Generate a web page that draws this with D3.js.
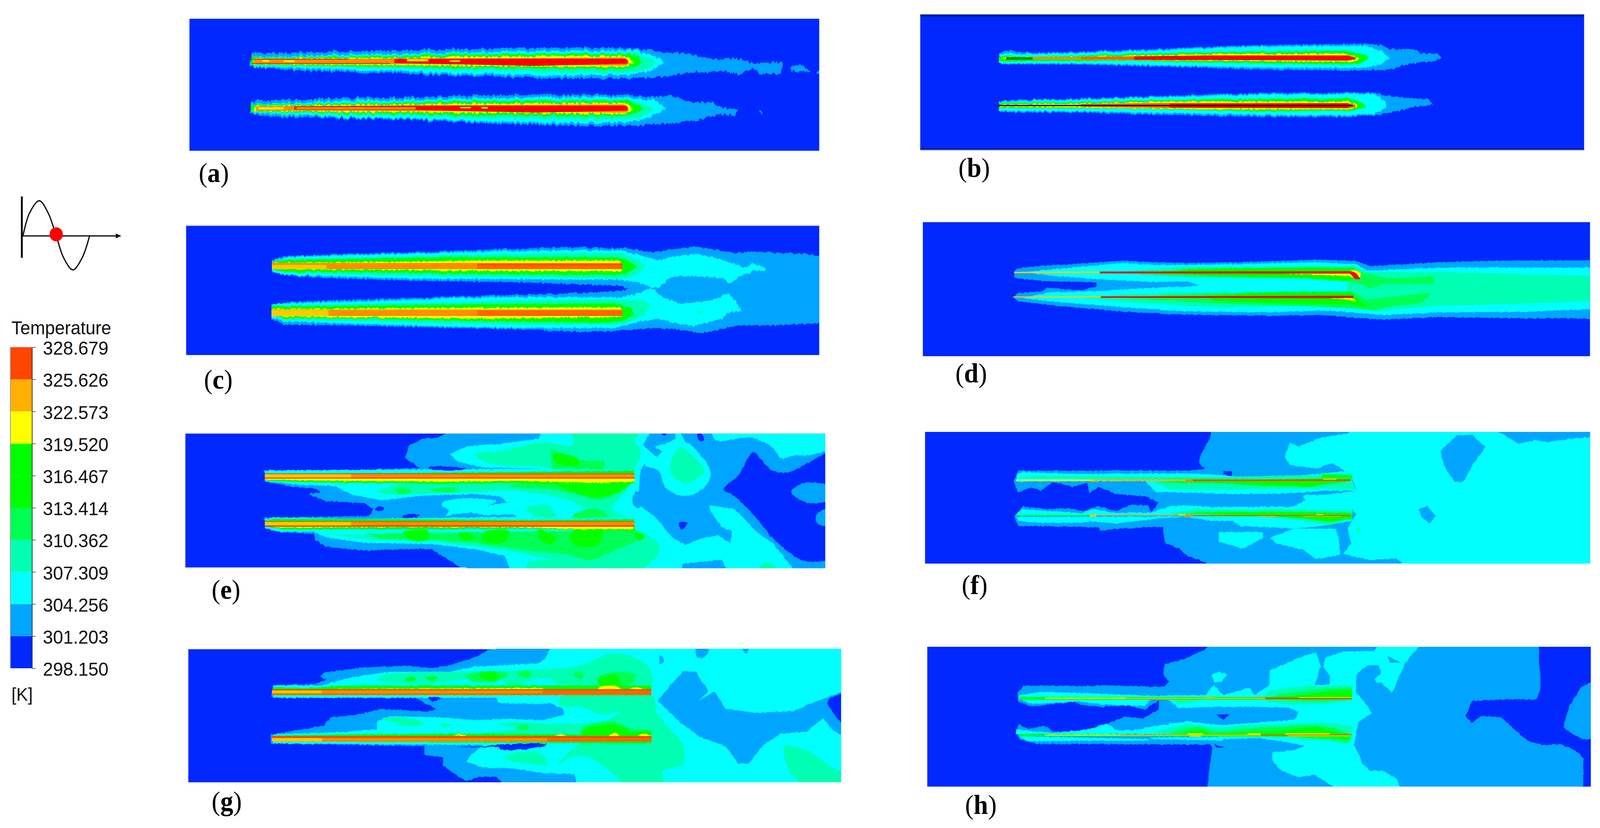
<!DOCTYPE html>
<html><head><meta charset="utf-8">
<style>html,body{margin:0;padding:0;background:#fff;overflow:hidden}svg{display:block;width:100vw;height:100vh}</style>
<script src="https://cdn.jsdelivr.net/npm/d3@7"></script>
</head><body><svg id="c" viewBox="0 0 4324 2120" preserveAspectRatio="none"></svg>
<script>
// ---------- legend data ----------
const tickLabels = ["298.150","301.203","304.256","307.309","310.362","313.414","316.467","319.520","322.573","325.626","328.679"];
const bandColors = ["#0028ff","#00a5ff","#00ffff","#00ffb2","#00ff52","#00ff00","#00ff00","#ffff00","#ffb000","#ff4500"];
const extraColors = ["#ff0000","#ff8c00","#ffc800","#1a8a00","#c89a20","#3a0000","#ff6400","#001f9c","#a8a8a8","#e8e4d8"];
const panelLetters = ["a","b","c","d","e","f","g","h"];
const cycleCurve = [[62,604],[80,545],[106,514],[130,545],[152,604],[172,660],[197,691],[222,660],[242,604]];
const cycleDot = [152,600];

// ---------- contour data: [level, flat x,y list] ----------
const contoursA = [
 [1,[172,365,180,350,400,335,600,322,750,313,900,308,1020,308,1115,325,1145,350,1185,345,1225,372,1245,390,1300,395,1325,392,1355,430,1372,425,1380,420,1425,420,1420,510,1370,505,1355,465,1325,510,1300,490,1240,490,1165,515,1115,540,1000,543,880,540,700,522,590,515,470,500,280,482,180,460,172,450]],
 [1,[1445,445,1470,440,1490,490,1450,490]],
 [1,[1512,480,1505,505,1515,505]],
 [2,[172,380,400,360,640,345,800,335,1080,328,1130,385,1145,425,1110,490,1060,515,880,520,600,498,340,470,180,450]],
 [3,[172,385,640,352,1070,345,1120,400,1125,430,1090,490,1040,500,640,475,172,445]],
 [5,[172,385,400,375,640,360,1060,355,1085,380,1095,420,1075,455,1040,470,640,460,172,435]],
 [7,[180,395,640,378,1050,370,1068,395,1070,430,1050,455,640,445,180,430]],
 [1,[172,725,180,712,400,695,600,682,720,672,1000,668,1160,680,1225,730,1250,722,1285,770,1320,780,1310,825,1285,815,1215,870,1130,890,1080,905,930,905,820,895,680,880,440,850,200,835,172,810]],
 [1,[1370,780,1378,800,1373,815]],
 [2,[172,740,400,715,640,700,1000,685,1120,700,1150,770,1110,850,1060,880,880,885,600,860,340,830,180,810]],
 [3,[172,745,640,712,1060,705,1115,760,1120,790,1090,850,1040,860,640,840,172,805]],
 [5,[172,745,400,735,640,720,1060,715,1085,740,1095,780,1075,815,1040,830,640,825,172,795]],
 [7,[180,755,640,738,1050,732,1068,755,1070,790,1050,815,640,805,180,790]]
];
const overlaysA = [
 [11,[180,397,500,390,1050,382,1060,400,1062,430,1055,445,640,435,180,430]],
 [10,[510,392,1055,392,1060,412,1058,430,840,447,510,425]],
 [10,[175,393,400,393,400,398,175,398]],[10,[175,426,500,426,500,431,175,431]],
 [7,[200,402,215,402,215,415,200,415]],[7,[250,405,275,405,275,418,250,418]],[7,[540,395,590,395,590,412,540,412]],[7,[640,405,665,405,665,415,640,415]],
 [11,[185,757,500,750,1050,742,1060,760,1062,790,1055,805,640,795,185,790]],
 [10,[275,757,600,752,1055,752,1060,772,1058,790,840,805,560,785,275,783]],
 [11,[280,762,560,762,560,780,280,780]],
 [7,[190,765,250,765,250,780,190,780]],[7,[665,762,690,762,690,772,665,772]],[7,[715,762,730,762,730,775,715,775]]
];
const barsA = [];

const contoursB = [
 [1,[215,345,225,330,260,335,300,345,500,325,760,290,1040,275,1075,285,1095,315,1150,320,1165,345,1200,355,1212,380,1195,410,1165,415,1120,445,1105,470,1040,480,830,475,630,455,400,435,220,432]],
 [2,[215,350,300,355,500,335,760,300,1040,290,1075,330,1095,385,1075,435,1040,460,830,460,630,445,400,425,215,425]],
 [5,[215,368,300,372,500,355,700,340,1000,330,1040,360,1048,390,1030,425,1000,435,700,420,500,405,215,410]],
 [7,[225,378,320,378,500,368,700,355,990,352,1020,375,1025,395,1010,415,700,405,500,395,320,390,225,392]],
 [1,[215,720,235,710,400,695,600,675,820,655,1060,650,1085,675,1130,690,1155,700,1180,695,1192,745,1150,760,1110,795,1065,825,950,840,700,830,400,805,220,800]],
 [2,[215,722,400,705,600,685,820,665,1060,660,1085,720,1085,770,1060,815,950,828,700,815,400,795,215,790]],
 [5,[215,730,400,722,600,708,820,700,1000,695,1035,725,1040,765,1010,790,800,795,500,775,215,770]],
 [7,[220,742,400,735,600,720,1000,720,1022,745,1022,765,1000,780,700,780,400,765,220,760]]
];
const overlaysB = [
 [13,[232,378,292,378,292,398,232,398]],
 [14,[292,378,400,376,400,398,292,398]],
 [16,[400,375,690,368,690,402,400,396]],
 [10,[520,372,690,365,1000,365,1018,380,1018,395,1000,405,690,400,520,398]],
 [16,[400,738,600,730,1000,730,1018,745,1018,765,1000,772,600,770,400,760]],
 [10,[600,736,1000,735,1010,750,1000,768,600,765]],
 [15,[215,745,1012,745,1012,756,215,756]]
];
const barsB = [[39,50,1532,68,17],[39,1078,1532,1090,17],[39,1090,1532,1097,18],[39,42,1532,50,19]];

const contoursC = [
 [1,[222,350,250,318,400,300,600,285,750,265,930,250,1060,255,1120,290,1170,262,1215,245,1260,265,1310,295,1360,285,1440,295,1480,300,1530,318,1530,830,1400,850,1320,850,1270,885,1230,910,1190,885,1130,870,1080,880,1010,895,960,900,800,880,650,870,400,850,250,845,222,800,222,690,260,670,400,655,500,645,700,625,900,605,1020,590,1060,575,1045,545,950,535,800,518,550,505,350,485,250,465,222,440]],
 [2,[222,355,260,325,400,310,600,295,750,280,1040,270,1090,310,1130,350,1170,318,1215,300,1260,325,1320,385,1330,410,1355,370,1385,410,1380,432,1360,420,1320,480,1300,530,1285,490,1240,475,1180,470,1155,490,1135,560,1115,560,1085,520,1040,500,800,495,550,490,350,470,250,460,222,435]],
 [2,[222,690,260,680,450,665,650,640,830,630,1040,635,1090,600,1115,560,1140,630,1185,685,1260,655,1290,610,1300,610,1330,745,1300,745,1280,800,1215,855,1180,840,1130,800,1090,820,1030,870,800,870,650,860,400,835,250,820,222,790]],
 [3,[222,358,640,310,1040,290,1085,350,1100,395,1090,440,1060,490,800,478,500,465,250,445]],
 [5,[222,358,250,345,640,325,1030,325,1060,350,1080,400,1060,450,1030,465,700,455,400,440,250,440,222,420]],
 [7,[222,370,500,362,710,352,1040,352,1048,400,1045,435,700,430,222,415]],
 [3,[222,695,640,675,800,660,1040,650,1100,660,1110,700,1100,770,1050,840,800,845,400,815,250,810,222,780]],
 [5,[222,700,250,705,640,690,800,685,1030,680,1070,720,1075,770,1045,820,1000,832,700,815,400,795,250,795,222,770]],
 [7,[222,725,700,715,1040,712,1048,760,1045,785,700,798,222,780]],
 [3,[1220,730,1235,745,1225,765]]
];
const overlaysC = [];
const barsC = [
 [20,75,1510,85,19],
 [222,378,350,418,12],[350,378,705,418,11],[705,378,1047,418,16],[222,370,1047,385,11],[705,376,1047,386,9],
 [222,733,355,778,12],[355,733,705,778,11],[705,733,1047,778,16],[222,726,1047,733,8]
];

const contoursD = [
 [1,[250,440,260,410,300,395,400,375,495,352,560,365,640,370,750,365,930,345,1020,355,1050,395,1200,365,1350,352,1570,350,1570,795,1410,795,1200,785,1075,805,1010,790,950,770,800,775,630,765,500,745,350,700,260,665,248,630,260,600,310,590,325,560,400,580,435,550,435,520,400,515,320,510,250,485]],
 [2,[270,440,400,400,495,370,560,385,640,385,750,380,930,365,1020,380,1045,430,1200,405,1570,405,1570,720,1400,745,1200,750,1075,770,1010,750,950,735,800,750,630,740,500,710,350,670,270,640,330,595,440,585,560,560,650,550,665,540,640,512,560,515,440,495,340,470]],
 [3,[480,440,630,400,1020,400,1045,440,1200,440,1570,470,1570,660,1400,680,1200,700,1060,740,1010,720,900,700,700,710,500,670,400,640,500,610,620,600,800,590,900,585,1000,590,1000,500,900,490,650,480,560,470]],
 [4,[640,415,1010,400,1030,440,1090,490,1195,470,1195,530,1085,530,1050,565,1020,520,900,490,620,470,530,450]],
 [4,[620,610,800,595,1010,590,1040,650,1190,600,1165,680,1100,700,1060,735,1020,720,900,700,700,680,500,640]],
 [5,[620,440,640,415,900,405,1010,410,1030,480,1000,505,900,485,700,470,620,450]],
 [5,[680,620,800,600,1010,590,1030,670,1050,715,1010,690,850,680,700,660]],
 [1,[470,530,490,520,500,545,475,555]],
 [7,[850,450,1010,440,1030,495,1000,470,900,458]],
 [7,[950,640,1010,630,1020,665,1000,650]]
];
const overlaysD = [
 [12,[250,438,443,436,443,447,250,449]],
 [10,[443,436,1005,434,1030,452,1028,495,1018,495,1005,452,443,450]],
 [7,[1005,425,1020,428,1030,450,1028,490,1020,450]],
 [12,[248,627,445,626,445,635,248,635]],
 [10,[445,626,1012,622,1014,640,445,637]],
 [7,[990,638,1014,640,1018,665,1005,655]]
];
const barsD = [[45,52,1545,58,19]];

const contoursE = [
 [1,[650,30,610,95,580,100,545,150,535,250,570,325,400,340,205,345,205,430,270,470,320,480,310,530,350,580,440,595,460,640,450,695,205,705,205,780,240,820,320,830,325,880,350,930,440,960,560,945,600,950,680,1120,1550,1120,1550,30]],
 [2,[860,30,850,100,760,140,680,160,640,220,660,280,720,320,860,330,205,350,205,425,270,450,370,465,410,530,480,575,570,540,700,525,760,545,775,590,740,610,640,650,630,695,690,665,720,690,790,680,800,700,205,725,205,790,240,815,320,815,350,860,440,900,600,910,700,950,770,1000,785,1120,1185,1120,1190,1060,1280,1030,1295,1120,1455,1120,1400,900,1360,810,1330,700,1310,640,1250,610,1255,660,1280,780,1305,810,1300,900,1270,840,1230,870,1195,915,1165,860,1130,720,1100,640,1070,560,1085,500,1090,340,1095,300,1130,250,1095,150,1115,30]],
 [2,[1180,30,1190,100,1215,170,1245,290,1255,380,1230,500,1190,540,1150,480,1130,340,1100,305,1140,200,1125,170,1170,100,1170,30]],
 [2,[1260,30,1265,110,1350,95,1400,170,1420,250,1450,230,1490,225,1550,150,1550,30]],
 [1,[1078,505,1098,570,1085,635,1070,590]],
 [3,[930,30,930,150,860,125,770,190,700,220,730,285,860,315,1000,345,1072,345,1090,200,1075,110,1095,30]],
 [3,[470,500,520,450,620,440,1075,410,1050,520,1020,640,1060,710,930,720,960,640,930,580,870,530,780,495,680,515,570,525,490,530]],
 [3,[340,830,460,840,1075,800,1100,820,1135,910,1130,1000,1090,1120,820,1120,825,1040,880,1030,760,950,600,890,440,870]],
 [3,[1165,240,1185,165,1225,280,1240,350,1195,440,1160,360]],
 [3,[1375,1060,1400,1060,1410,1120,1370,1120]],
 [2,[620,600,660,560,750,580,740,600,700,640,640,650]],
 [3,[820,640,870,610,890,700,840,690]],
 [4,[880,180,900,215,950,265,1005,280,1000,345,880,345,880,300]],
 [5,[885,215,945,260,945,300,915,310,890,280]],
 [4,[510,490,540,480,550,510,525,530]],[4,[590,490,660,480,650,510,600,500]],
 [4,[780,470,840,420,1075,410,1060,470,1030,530,990,570,940,530,880,490]],
 [5,[890,450,900,430,1065,430,1030,520,985,550,940,520]],
 [4,[930,690,970,640,990,640,1020,700,1040,730,930,730]],
 [4,[440,830,1080,800,1090,870,1000,1000,970,1040,920,990,800,950,700,900,620,880,480,870]],
 [5,[530,820,590,810,590,870,550,880]],[5,[670,815,700,860,680,880,660,850]],[5,[720,820,780,810,770,890,745,905,715,880]],[5,[850,800,890,860,880,910,855,880]],[5,[930,810,1000,800,990,910,950,930,925,890]],[5,[1075,820,1100,850,1085,880]],
 [2,[205,345,400,340,860,330,1075,340,1075,370,205,370]],
 [5,[205,368,600,362,1075,345,1075,370]],
 [5,[205,400,1075,400,1075,440,1000,465,800,440,620,445,400,440,250,430,205,420]],
 [7,[205,395,1075,395,1075,430,1000,440,800,425,620,430,400,425,205,415]],
 [2,[205,720,230,703,400,715,850,720,1040,700,1075,720,1075,740,205,740]],
 [5,[205,730,230,715,850,725,1075,718,1075,740,205,740]],
 [5,[205,770,1075,770,1075,805,950,800,800,790,600,795,400,795,250,800]],
 [7,[215,770,1075,770,1070,795,950,795,800,780,400,780,240,785]],
 [0,[1355,205,1380,290,1400,345,1435,360,1550,200,1550,420,1470,445,1445,510,1480,590,1550,590,1505,680,1505,750,1550,800,1550,1000,1490,1045,1460,1020,1400,860,1360,700,1310,540,1285,490,1320,380]],
 [0,[1225,30,1240,110,1225,110]],[0,[1140,30,1150,70,1140,70]],
 [0,[1180,745,1200,745,1185,800]],[0,[475,622,487,640,475,658,465,640]],
 [0,[590,320,650,318,680,335,600,340]],[0,[530,690,570,685,565,700,530,705]],[0,[320,485,335,510,315,515]]
];
const overlaysE = [];
const barsE = [
 [18,55,1524,62,19],[18,1088,680,1095,19],
 [205,372,408,400,12],[408,372,1075,400,11],[205,367,1075,373,9],[205,400,1075,406,10],
 [205,738,408,768,12],[408,738,1075,768,11],[205,733,1075,739,9],[205,768,1075,775,10]
];

const contoursF = [
 [1,[695,30,690,100,670,220,665,285,680,330,640,345,260,345,250,420,258,510,290,475,310,500,340,430,380,470,415,440,420,515,440,470,480,525,545,540,575,590,560,660,550,610,510,610,480,655,440,615,410,655,375,635,330,640,270,620,250,700,260,770,300,770,440,780,445,810,480,790,585,775,590,900,620,940,640,1000,680,1050,695,1075,1565,1075,1565,30]],
 [2,[1010,30,1000,60,940,90,890,160,870,130,858,240,870,300,930,330,965,285,990,340,1010,400,1020,500,950,530,900,530,905,570,885,610,860,640,1010,640,1020,680,1000,780,1008,900,990,985,1050,1030,1110,1020,1130,1075,1565,1075,1565,90,1530,90,1500,100,1450,125,1420,110,1385,140,1350,65,1325,30]],
 [1,[1245,75,1280,70,1310,165,1285,280,1260,430,1240,430,1215,300,1210,190]],
 [1,[1160,640,1180,618,1198,690,1185,750,1165,700]],
 [2,[710,815,810,815,810,860,765,945,710,890]],
 [2,[880,790,975,790,985,990,930,1025,900,950,840,905,825,860]],
 [0,[720,345,740,350,740,390,720,370]],
 [2,[255,375,270,355,400,370,640,365,700,375,735,385,800,400,830,400,1010,345,1010,440,1020,500,950,500,860,520,740,525,600,510,570,510,545,425,255,430]],
 [3,[570,430,1010,400,1015,490,900,480,750,490,600,490]],
 [5,[560,430,1010,400,1005,425,915,470,800,460,720,440,630,440]],
 [3,[260,400,300,385,700,395,1010,370,1010,405,260,405]],
 [5,[260,410,1010,400,1010,380,945,370,940,400,640,410]],
 [2,[250,690,270,640,310,650,400,670,430,640,480,670,560,665,600,620,640,610,700,625,850,620,1010,640,1010,690]],
 [2,[255,700,260,730,300,745,400,745,420,735,480,750,580,710,640,700,690,730,740,730,760,770,880,790,940,770,1010,730,1010,693]],
 [3,[600,670,660,640,750,650,850,640,1010,650,1010,700,960,765,900,730,820,700,700,700,610,690]],
 [5,[620,670,700,660,850,660,950,665,1010,670,1010,715,960,740,900,710,820,695,770,690]],
 [3,[1020,780,1030,800,1020,835]]
];
const overlaysF = [];
const barsF = [
 [50,45,1545,48,19],
 [255,413,430,423,7],[430,412,650,423,8],[650,412,1007,424,9],[420,415,432,429,12],[635,412,652,430,11],[945,407,975,413,7],
 [255,685,420,692,5],[420,682,435,698,12],[435,685,635,692,11],[635,682,652,698,11],[652,686,1007,693,9],[800,693,840,698,8],[900,693,985,698,8],[930,680,945,686,7],[620,681,635,686,7]
];

const contoursG = [
 [1,[750,40,700,130,640,190,600,210,540,195,440,205,345,245,335,280,350,300,320,335,225,340,220,430,560,440,580,475,610,530,590,545,480,525,420,570,360,590,345,650,300,680,220,720,220,790,580,810,580,880,625,895,625,960,650,1020,680,1080,710,1045,750,1045,770,1110,1585,1110,1585,40]],
 [2,[880,40,865,140,850,175,700,200,640,240,500,240,440,265,400,290,340,345,225,345,225,440,750,440,755,480,860,490,875,475,905,520,910,570,860,610,780,600,700,610,620,590,500,580,470,620,470,680,400,700,225,720,225,790,680,800,720,800,690,880,680,930,720,975,800,985,860,1020,935,1025,940,1110,1400,1110,1345,945,1320,945,1290,810,1230,740,1180,620,1130,460,1190,235,1220,240,1250,390,1225,465,1265,390,1290,525,1360,555,1450,540,1500,470,1585,370,1585,40]],
 [2,[1345,945,1380,800,1420,715,1480,700,1520,595,1540,680,1585,770,1585,1110,1400,1110]],
 [3,[470,300,480,270,640,240,800,230,950,190,1020,100,1075,130,1110,210,1115,350,900,345,880,295,840,300,800,340,780,340,760,300,650,310,600,330,480,310]],
 [3,[900,440,1115,420,1130,560,1190,810,1190,950,1145,1000,1140,1110,1060,1110,1020,1010,970,900,930,890,895,960,920,860,950,780,1010,620,1040,550,1000,570,950,510,900,500]],
 [3,[770,890,800,860,860,875,870,950,820,940,780,920]],
 [3,[1430,810,1490,860,1530,950,1585,1060,1585,1110,1480,1110,1440,1000]],
 [3,[480,600,540,590,580,640,550,660]],[3,[620,630,640,650,625,670]],
 [3,[755,640,800,625,880,640,950,640,1025,610,1090,680,1115,710,700,720,800,680]],
 [4,[680,280,710,240,780,250,760,300,730,320,690,310]],[4,[800,250,830,230,830,280,810,280]],[4,[935,250,950,240,955,290,940,290]],[4,[990,280,1050,240,1075,260,1075,310,1050,345,990,340]],
 [5,[710,260,745,245,755,290,735,315]],[5,[990,290,1035,270,1040,340,995,340]],[5,[540,285,560,285,555,310,535,300]],[5,[585,285,610,280,600,310]],
 [4,[950,680,1020,620,1070,680,1110,690,1110,720,950,720]],[5,[960,680,1025,645,1060,690,1060,720,950,720]],[4,[800,650,825,650,825,680,805,680]],
 [5,[225,370,225,355,300,365,400,345,1115,345,1115,420,225,420]],
 [7,[990,360,1030,350,1045,375,990,375]],[7,[1065,370,1085,360,1095,375]],[7,[380,372,860,365,860,375,380,375]],
 [5,[225,730,400,720,650,715,1000,720,1115,690,1115,790,225,775]],
 [7,[1015,730,1030,708,1040,730]],[7,[1085,730,1100,715,1115,735]],[7,[650,730,665,720,680,730]],[7,[890,730,900,720,915,730]],
 [0,[1585,415,1530,465,1585,680]],[0,[590,440,620,440,600,470]],[0,[660,815,720,810,750,800,870,795,850,820,760,835,755,820,700,820]],
 [1,[1135,110,1145,160,1135,180]],[1,[1220,63,1250,63,1240,130,1225,130]],[1,[1330,63,1345,63,1338,100]]
];
const overlaysG = [];
const barsG = [
 [25,63,750,67,19],
 [222,382,340,405,12],[340,382,860,405,11],[860,382,1115,405,16],[222,373,1115,383,9],[222,405,1115,418,16],
 [222,748,340,775,12],[340,748,870,775,11],[870,748,1115,775,16],[222,733,1115,748,9]
];

const contoursH = [
 [1,[690,30,680,70,630,145,590,180,585,260,600,320,585,355,500,350,470,345,400,350,270,345,258,410,260,470,290,510,380,470,400,495,450,510,500,495,545,530,575,460,575,530,540,600,500,585,460,640,440,650,420,700,340,700,320,655,280,680,262,640,255,680,262,760,300,795,690,800,695,830,685,1140,1570,1140,1570,30]],
 [0,[1430,30,1435,360,1425,455,1380,450,1330,455,1280,465,1265,580,1280,635,1300,580,1345,590,1405,770,1440,805,1480,795,1510,840,1530,900,1530,1140,1570,1140,1570,760,1530,760,1505,715,1485,670,1490,600,1500,500,1525,360,1570,280,1570,30]],
 [0,[705,570,735,565,720,610]],[0,[700,795,725,820,705,820]],
 [2,[1165,30,1130,170,1115,290,1100,400,1075,325,1060,290,1075,260,1070,190,1045,190,1020,260,1020,400,1040,480,1055,560,1025,620,1015,800,1035,950,1050,1000,1080,1000,1110,1060,1120,1140,975,1140,925,1030,890,1050,850,1000,830,920,830,860,880,840,905,810,860,780,800,750,720,760,700,720,720,650,800,630,880,610,890,550,870,515,780,510,720,510,620,520,600,460,560,440,262,450,262,420,310,395,420,405,560,425,620,420,680,420,700,340,720,420,780,360,790,420,825,340,825,230,900,120,930,90,940,200,925,340,960,340,960,270,945,200,950,130,990,85,1060,80,1070,30]],
 [1,[1090,120,1120,170,1095,170]],
 [2,[695,260,710,240,730,260,715,320,700,320]],[2,[1060,285,1085,290,1085,325,1065,320]],
 [2,[262,450,560,445,545,500,500,500,450,490,400,470,380,470,290,490]],
 [2,[255,720,255,680,300,700,345,710,420,680,460,640,480,690,520,690,560,660,640,620,720,650,720,720]],
 [2,[262,735,280,775,430,770,550,770,560,745,720,740,720,770]],
 [3,[830,380,900,350,1010,345,1010,460,950,490,870,490,820,470,810,430]],[3,[610,450,670,460,620,490]],
 [3,[560,710,640,640,720,670,760,650,880,640,950,630,1010,660,1010,760,990,790,950,770,900,770,860,735,710,735]],
 [4,[850,410,950,370,1010,360,1010,450,940,470,820,450]],
 [4,[610,700,660,660,710,700,800,670,920,650,970,670,1010,730,1000,790,980,770,880,740,600,730]],
 [5,[870,430,960,390,1010,380,1010,450,820,450,820,435]],
 [5,[640,700,670,690,700,715,860,690,930,660,970,700,1010,730,1000,770,985,750,870,735,620,730]]
];
const overlaysH = [];
const barsH = [
 [262,434,1010,455,5],[320,440,500,448,7],[500,440,815,448,8],[815,438,1008,450,9],[890,435,1008,440,7],[485,435,500,442,8],[795,434,815,440,11],[680,434,700,440,8],
 [262,722,1010,737,5],[320,724,490,730,7],[490,724,805,732,8],[805,723,1008,730,9],[865,730,1008,736,7],[640,714,675,722,7],[775,714,805,722,7],[860,714,960,722,7],[645,732,670,738,7]
];

// ---------- layout ----------
const panels = [
 {c:contoursA,o:overlaysA,b:barsA,dx:[28,1510],dy:[85,1098],rx:[512,2214],ry:[48,386],rough:8,round:false,lab:[537,466]},
 {c:contoursB,o:overlaysB,b:barsB,dx:[39,1532],dy:[50,1095],rx:[2487,4281],ry:[37,385],rough:5,round:false,lab:[2590,453]},
 {c:contoursC,o:overlaysC,b:barsC,dx:[20,1510],dy:[75,1078],rx:[503,2214],ry:[575,909],rough:5,round:false,lab:[551,995]},
 {c:contoursD,o:overlaysD,b:barsD,dx:[45,1545],dy:[55,1085],rx:[2494,4297],ry:[568,912],rough:3,round:false,lab:[2582,979]},
 {c:contoursE,o:overlaysE,b:barsE,dx:[18,1524],dy:[55,1095],rx:[501,2230],ry:[1108,1455],rough:3,round:true,lab:[572,1533]},
 {c:contoursF,o:overlaysF,b:barsF,dx:[50,1545],dy:[45,1058],rx:[2500,4297],ry:[1105,1443],rough:3,round:false,lab:[2599,1521]},
 {c:contoursG,o:overlaysG,b:barsG,dx:[25,1562],dy:[63,1088],rx:[509,2273],ry:[1661,2003],rough:3,round:true,lab:[572,2075]},
 {c:contoursH,o:overlaysH,b:barsH,dx:[55,1547],dy:[48,1123],rx:[2506,4299],ry:[1656,2014],rough:3,round:false,lab:[2608,2084]}
];
const levelColor = d3.scaleOrdinal(d3.range(bandColors.length+extraColors.length), bandColors.concat(extraColors));
const svg = d3.select("#c");
const defs = svg.append("defs");
[8,5,3].forEach(a=>{
  const f = defs.append("filter").attr("id","rough"+a).attr("x","-2%").attr("y","-5%").attr("width","104%").attr("height","110%").attr("color-interpolation-filters","sRGB");
  f.append("feTurbulence").attr("type","fractalNoise").attr("baseFrequency","0.14 0.018").attr("numOctaves",2).attr("seed",7).attr("result","n");
  f.append("feDisplacementMap").attr("in","SourceGraphic").attr("in2","n").attr("scale",a*2).attr("xChannelSelector","G").attr("yChannelSelector","R");
});
const chunk = a => d3.range(0,a.length,2).map(i=>[a[i],a[i+1]]);
const longestEdge = pts => d3.max(d3.pairs(pts), ([a,b]) => Math.hypot(a[0]-b[0], a[1]-b[1]));

panels.forEach((p,i)=>{
  const x = d3.scaleLinear(p.dx,p.rx), y = d3.scaleLinear(p.dy,p.ry);
  const smooth = d3.line().x(d=>x(d[0])).y(d=>y(d[1])).curve(d3.curveCatmullRomClosed.alpha(0.5));
  const line = d3.line().x(d=>x(d[0])).y(d=>y(d[1])).curve(d3.curveLinearClosed);
  const shape = pts => (p.round && longestEdge(pts) < 300) ? smooth(pts) : line(pts);
  defs.append("clipPath").attr("id","clip"+i).append("rect").attr("x",p.rx[0]).attr("y",p.ry[0]).attr("width",p.rx[1]-p.rx[0]).attr("height",p.ry[1]-p.ry[0]);
  const g = svg.append("g");
  g.append("rect").attr("x",p.rx[0]).attr("y",p.ry[0]).attr("width",p.rx[1]-p.rx[0]).attr("height",p.ry[1]-p.ry[0]).attr("fill",levelColor(0));
  const clip = g.append("g").attr("clip-path",`url(#clip${i})`);
  clip.append("g").attr("filter",`url(#rough${p.rough})`).selectAll("path").data(p.c).join("path")
    .attr("d",d=>shape(chunk(d[1]))).attr("fill",d=>levelColor(d[0]));
  clip.append("g").selectAll("path").data(p.o).join("path")
    .attr("d",d=>line(chunk(d[1]))).attr("fill",d=>levelColor(d[0]));
  g.append("g").selectAll("rect").data(p.b).join("rect")
    .attr("x",d=>x(d[0])).attr("y",d=>y(d[1])).attr("width",d=>x(d[2])-x(d[0])).attr("height",d=>y(d[3])-y(d[1])).attr("fill",d=>levelColor(d[4]));
  const t = svg.append("text").attr("x",p.lab[0]).attr("y",p.lab[1]).attr("font-family","Liberation Serif").attr("font-size",70).attr("fill","#000");
  t.append("tspan").text("(");
  t.append("tspan").attr("font-weight","bold").text(panelLetters[i]);
  t.append("tspan").text(")");
});

// ---------- colour bar ----------
const legendY = d3.scaleLinear([0,10],[1711,889]);
const legend = svg.append("g");
legend.selectAll("rect").data(bandColors).join("rect")
  .attr("x",28).attr("width",59).attr("y",(d,i)=>legendY(i+1)).attr("height",(d,i)=>legendY(i)-legendY(i+1)).attr("fill",d=>d);
legend.append("line").attr("x1",87).attr("x2",87).attr("y1",889).attr("y2",1711).attr("stroke","#333").attr("stroke-width",2);
legend.append("line").attr("x1",28).attr("x2",28).attr("y1",889).attr("y2",1711).attr("stroke","#999").attr("stroke-width",2);
const axis = d3.axisRight(legendY).tickValues(d3.range(11)).tickFormat(i=>tickLabels[i]).tickSize(10).tickPadding(19);
const ag = legend.append("g").attr("transform","translate(87,0)").call(axis);
ag.select(".domain").remove();
ag.selectAll(".tick line").attr("stroke","#444").attr("stroke-width",1.5);
ag.selectAll(".tick text").attr("font-family","Liberation Sans").attr("font-size",49).attr("fill","#111").attr("dy","0.38em");
svg.append("text").attr("x",31).attr("y",856).attr("font-family","Liberation Sans").attr("font-size",48).attr("fill","#111").text("Temperature");
svg.append("text").attr("x",31).attr("y",1794).attr("font-family","Liberation Sans").attr("font-size",47).attr("fill","#111").text("[K]");

// ---------- cycle icon ----------
const ic = svg.append("g");
ic.append("path").attr("d",d3.line().curve(d3.curveCatmullRom)(cycleCurve)).attr("fill","none").attr("stroke","#111").attr("stroke-width",3.5);
ic.append("line").attr("x1",59).attr("x2",59).attr("y1",503).attr("y2",660).attr("stroke","#000").attr("stroke-width",5);
ic.append("line").attr("x1",60).attr("x2",315).attr("y1",604).attr("y2",604).attr("stroke","#000").attr("stroke-width",3);
ic.append("path").attr("d","M313,598L328,604L313,610Z").attr("fill","#000");
ic.append("circle").attr("cx",cycleDot[0]).attr("cy",cycleDot[1]).attr("r",18).attr("fill","#ff0000");
</script></body></html>
